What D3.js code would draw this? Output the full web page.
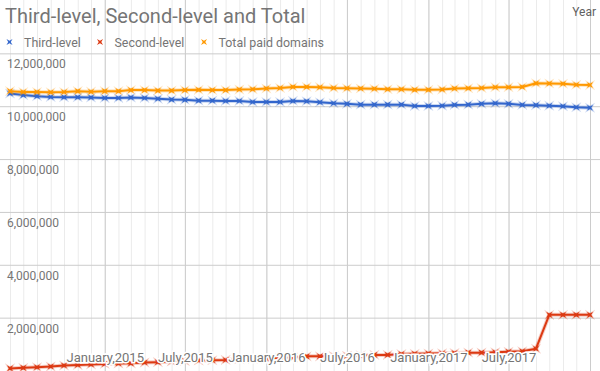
<!DOCTYPE html>
<html>
<head>
<meta charset="utf-8">
<script src="https://cdn.jsdelivr.net/npm/d3@7"></script>
<style>
  body { margin: 0; background: #fff; }
  svg { display: block; font-family: Roboto, "Noto Sans", sans-serif; }
</style>
</head>
<body>
<div id="chart"></div>
<script>
// months June 2014 .. January 2018
const months = [
  "2014-06","2014-07","2014-08","2014-09","2014-10","2014-11","2014-12",
  "2015-01","2015-02","2015-03","2015-04","2015-05","2015-06","2015-07","2015-08","2015-09","2015-10","2015-11","2015-12",
  "2016-01","2016-02","2016-03","2016-04","2016-05","2016-06","2016-07","2016-08","2016-09","2016-10","2016-11","2016-12",
  "2017-01","2017-02","2017-03","2017-04","2017-05","2017-06","2017-07","2017-08","2017-09","2017-10","2017-11","2017-12",
  "2018-01"
];

// values in millions
const thirdLevel = [
  10.48, 10.42, 10.38, 10.35, 10.34, 10.34, 10.33, 10.31, 10.31, 10.33, 10.31, 10.28, 10.25, 10.24, 10.21,
  10.21, 10.20, 10.20, 10.16, 10.16, 10.16, 10.20, 10.19, 10.15, 10.11, 10.09, 10.06, 10.06, 10.06,
  10.06, 10.01, 10.01, 10.02, 10.05, 10.06, 10.09, 10.11, 10.09, 10.05, 10.04, 10.02, 10.00, 9.96, 9.94
];
const secondLevel = [
  0.08, 0.10, 0.125, 0.15, 0.19, 0.21, 0.23, 0.25, 0.265, 0.27, 0.30, 0.315, 0.34, 0.36, 0.38,
  0.39, 0.40, 0.43, 0.44, 0.455, 0.48, 0.49, 0.535, 0.535, 0.55, 0.56, 0.57, 0.59, 0.59,
  0.62, 0.63, 0.645, 0.655, 0.66, 0.675, 0.675, 0.69, 0.71, 0.73, 0.825, 2.105, 2.105, 2.105, 2.105
];
const totalPaid = [
  10.57, 10.54, 10.54, 10.53, 10.54, 10.57, 10.55, 10.57, 10.57, 10.61, 10.61, 10.59, 10.59, 10.61, 10.62,
  10.61, 10.61, 10.63, 10.64, 10.67, 10.69, 10.73, 10.73, 10.72, 10.69, 10.68, 10.67, 10.66, 10.64,
  10.64, 10.62, 10.62, 10.63, 10.67, 10.68, 10.69, 10.72, 10.72, 10.73, 10.87, 10.86, 10.85, 10.81, 10.80
];

const seriesNames = ["Third-level", "Second-level", "Total paid domains"];
const seriesColors = ["#3366cc", "#dc3912", "#ff9900"];

const yTicks = [2e6, 4e6, 6e6, 8e6, 10e6, 12e6];
const majorTicks = ["2015-01","2015-07","2016-01","2016-07","2017-01","2017-07","2018-01"];
const tickLabels = ["January,2015","July,2015","January,2016","July,2016","January,2017","July,2017"];

const W = 600, H = 371;
const parse = s => { const [y, m] = s.split("-").map(Number); return new Date(Date.UTC(y, m - 1, 1)); };

const x = d3.scaleUtc().domain([parse("2014-06"), parse("2018-01")]).range([10, 590]);
const y = d3.scaleLinear().domain([0, 14e6]).range([370.5, 0.5]);

const svg = d3.select("#chart").append("svg").attr("width", W).attr("height", H);
svg.append("rect").attr("width", W).attr("height", H).attr("fill", "#fff");

// minor monthly gridlines
const gridMonths = ["2014-05"].concat(months);
svg.append("g")
  .attr("transform", `translate(0,${H})`)
  .call(d3.axisBottom(x).tickValues(gridMonths.map(parse)).tickSize(-H).tickFormat(""))
  .call(g => g.select(".domain").remove())
  .call(g => g.selectAll("line").attr("stroke", "#ebebeb"));

// major gridlines
svg.append("g")
  .attr("transform", `translate(0,${H})`)
  .call(d3.axisBottom(x).tickValues(majorTicks.map(parse)).tickSize(-H).tickFormat(""))
  .call(g => g.select(".domain").remove())
  .call(g => g.selectAll("line").attr("stroke", "#cccccc"));

// horizontal gridlines + labels
svg.append("g")
  .call(d3.axisRight(y).tickValues(yTicks).tickSize(W).tickFormat(d3.format(",")))
  .call(g => g.select(".domain").remove())
  .call(g => g.selectAll("line").attr("stroke", "#cccccc"))
  .call(g => g.selectAll("text")
    .attr("x", 7).attr("dy", 14.5)
    .attr("text-anchor", "start")
    .attr("fill", "#757575")
    .attr("font-size", 12)
    .attr("font-family", "Roboto, sans-serif"));

// 4-pointed star rotated into an x
function xMark(r, ri) {
  const pts = [];
  for (let k = 0; k < 8; k++) {
    const a = Math.PI / 4 + k * Math.PI / 4;
    const rr = k % 2 === 0 ? r : ri;
    pts.push([rr * Math.cos(a), rr * Math.sin(a)]);
  }
  return "M" + pts.map(p => p.join(",")).join("L") + "Z";
}

const seriesData = [thirdLevel, secondLevel, totalPaid];
const line = d3.line().x(d => x(d.date)).y(d => y(d.value));

// draw order: red, blue, orange
[1, 0, 2].forEach(si => {
  const pts = months.map((m, i) => ({ date: parse(m), value: seriesData[si][i] * 1e6 }));
  const g = svg.append("g");
  g.append("path").datum(pts).attr("d", line)
    .attr("fill", "none").attr("stroke", seriesColors[si])
    .attr("stroke-opacity", 0.25).attr("stroke-width", 4).attr("stroke-linejoin", "round");
  g.append("path").datum(pts).attr("d", line)
    .attr("fill", "none").attr("stroke", seriesColors[si])
    .attr("stroke-width", 2).attr("stroke-linejoin", "round");
  g.selectAll(".mk").data(pts).enter().append("path")
    .attr("class", "mk")
    .attr("transform", d => `translate(${x(d.date)},${y(d.value)})`)
    .attr("d", xMark(4.3, 1.3))
    .attr("fill", seriesColors[si])
    .attr("stroke", seriesColors[si]).attr("stroke-opacity", 0.25).attr("stroke-width", 1.5);
});

// x axis labels, drawn over the data with a white halo
svg.append("g")
  .attr("transform", "translate(0,362)")
  .call(d3.axisBottom(x).tickValues(majorTicks.slice(0, tickLabels.length).map(parse))
    .tickSize(0).tickFormat((d, i) => tickLabels[i]))
  .call(g => g.select(".domain").remove())
  .call(g => g.selectAll("text")
    .attr("y", 0).attr("dy", 0)
    .attr("fill", "#757575")
    .attr("font-size", 13)
    .attr("font-family", "Roboto, sans-serif")
    .attr("stroke", "#fff").attr("stroke-width", 3)
    .attr("paint-order", "stroke"));

// title
svg.append("text")
  .attr("x", 5).attr("y", 23)
  .attr("font-size", 20).attr("fill", "#757575")
  .text("Third-level, Second-level and Total");

// horizontal axis title
svg.append("text")
  .attr("x", 596).attr("y", 16).attr("text-anchor", "end")
  .attr("font-size", 12).attr("fill", "#616161")
  .text("Year");

// legend
const legendX = [9.5, 100, 204];
seriesNames.forEach((name, i) => {
  svg.append("path")
    .attr("transform", `translate(${legendX[i]},42)`)
    .attr("d", xMark(4.3, 1.3))
    .attr("fill", seriesColors[i]);
  svg.append("text")
    .attr("x", legendX[i] + 14.5).attr("y", 46.5)
    .attr("font-size", 12.4).attr("fill", "#757575")
    .text(name);
});
</script>
</body>
</html>
